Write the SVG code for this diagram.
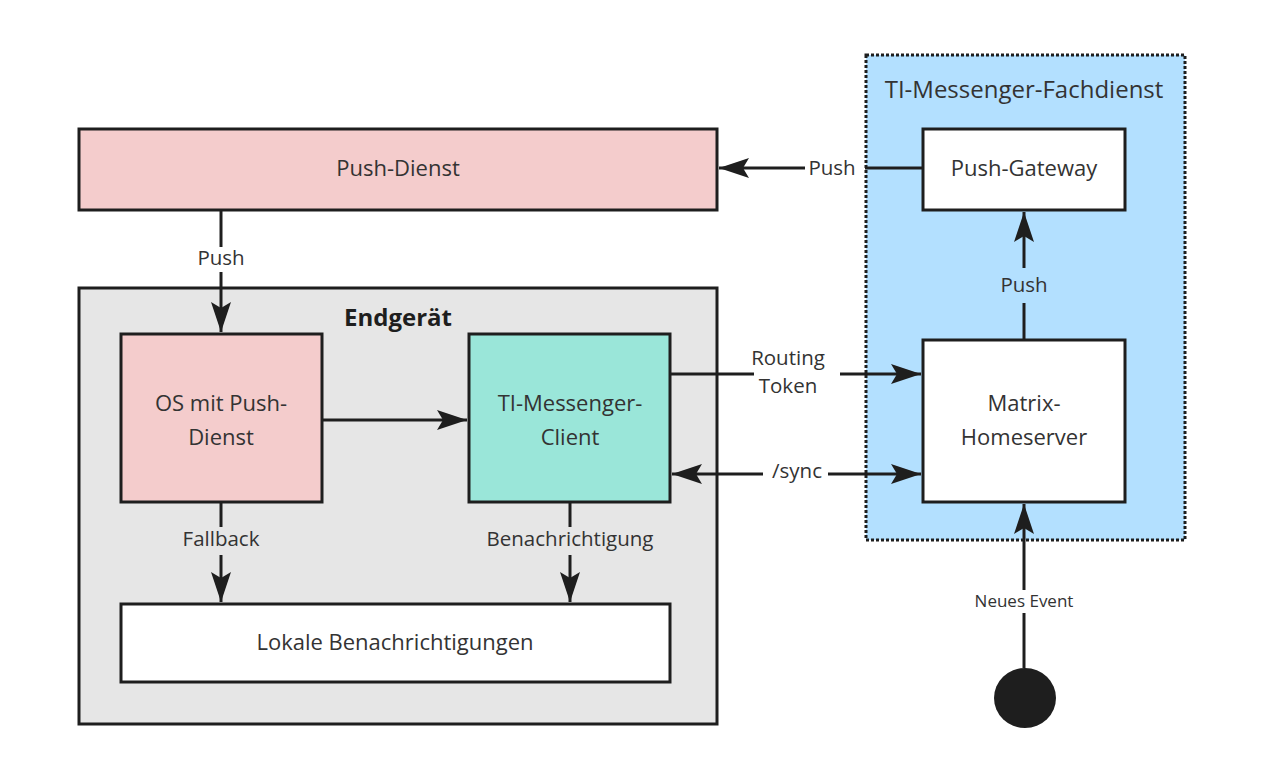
<svg xmlns="http://www.w3.org/2000/svg" width="1280" height="780" viewBox="0 0 1280 780">
<style>
.box{stroke:#1e1e1e;stroke-width:3}
.t{font-family:"Open Sans","Noto Sans","Liberation Sans",sans-serif;font-size:22px;fill:#333;text-anchor:middle}
.el{font-family:"Open Sans","Noto Sans","Liberation Sans",sans-serif;font-size:20.5px;fill:#333;text-anchor:middle}
.sm{font-family:"Open Sans","Noto Sans","Liberation Sans",sans-serif;font-size:17px;fill:#333;text-anchor:middle}
.title{font-family:"Open Sans","Noto Sans","Liberation Sans",sans-serif;font-size:24px;fill:#333;text-anchor:middle}
.bold{font-family:"Open Sans","Noto Sans","Liberation Sans",sans-serif;font-size:24px;font-weight:bold;fill:#1e1e1e;text-anchor:middle}
.c{fill:none;stroke:#1e1e1e;stroke-width:3}
.a{marker-end:url(#arr)}
</style>
<defs>
<marker id="arr" markerUnits="userSpaceOnUse" markerWidth="32" markerHeight="22" refX="30" refY="11" orient="auto-start-reverse">
<path d="M0,1 L30,11 L0,21 L6,11 Z" fill="#1e1e1e"/>
</marker>
</defs>
<rect width="1280" height="780" fill="#ffffff"/>

<g id="fachdienst">
<rect x="866" y="55" width="319" height="485" fill="#b3e0ff" stroke="#1e1e1e" stroke-width="3" stroke-dasharray="3 2"/>
<text class="title" x="1024" y="98">TI-Messenger-Fachdienst</text>
</g>
<g id="push-dienst">
<rect class="box" x="79" y="129" width="638" height="81" fill="#f4cccc"/>
<text class="t" x="398" y="176">Push-Dienst</text>
</g>
<g id="endgeraet">
<rect class="box" x="79" y="288" width="638" height="436" fill="#e6e6e6"/>
<text class="bold" x="398" y="326">Endgerät</text>
</g>
<g id="os">
<rect class="box" x="121" y="334" width="201" height="168" fill="#f4cccc"/>
<text class="t" x="221" y="411">OS mit Push-</text>
<text class="t" x="221" y="445">Dienst</text>
</g>
<g id="client">
<rect class="box" x="469" y="334" width="201" height="168" fill="#9ae6d9"/>
<text class="t" x="570" y="411">TI-Messenger-</text>
<text class="t" x="570" y="445">Client</text>
</g>
<g id="lokale">
<rect class="box" x="121" y="604" width="549" height="78" fill="#ffffff"/>
<text class="t" x="395" y="650">Lokale Benachrichtigungen</text>
</g>
<g id="push-gateway">
<rect class="box" x="923" y="129" width="202" height="81" fill="#ffffff"/>
<text class="t" x="1024" y="176">Push-Gateway</text>
</g>
<g id="homeserver">
<rect class="box" x="923" y="340" width="202" height="162" fill="#ffffff"/>
<text class="t" x="1024" y="411">Matrix-</text>
<text class="t" x="1024" y="445">Homeserver</text>
</g>
<g id="start">
<ellipse cx="1025" cy="698" rx="31" ry="30" fill="#1e1e1e"/>
</g>

<g id="connectors">
<path class="c" d="M922,168 L865,168"/>
<path class="c a" d="M805,168 L719,168"/>
<text class="el" x="832" y="175">Push</text>

<path class="c" d="M221,211 L221,247"/>
<path class="c a" d="M221,272 L221,332"/>
<text class="el" x="221" y="265">Push</text>

<path class="c a" d="M323,420 L467,420"/>

<path class="c" d="M671,374 L754,374"/>
<path class="c a" d="M840,374 L921,374"/>
<text class="el" x="788" y="365">Routing</text>
<text class="el" x="788" y="393">Token</text>

<path class="c" d="M763,474 L672,474" style="marker-end:url(#arr)"/>
<path class="c a" d="M828,474 L921,474"/>
<text class="el" x="797" y="478">/sync</text>

<path class="c" d="M1024,339 L1024,303"/>
<path class="c a" d="M1024,268 L1024,212"/>
<text class="el" x="1024" y="292">Push</text>

<path class="c" d="M221,503 L221,527"/>
<path class="c a" d="M221,555 L221,602"/>
<text class="el" x="221" y="546">Fallback</text>

<path class="c" d="M570,503 L570,527"/>
<path class="c a" d="M570,555 L570,602"/>
<text class="el" x="570" y="546">Benachrichtigung</text>

<path class="c" d="M1024,668 L1024,613"/>
<path class="c a" d="M1024,590 L1024,504"/>
<text class="sm" x="1024" y="607">Neues Event</text>
</g>
</svg>
